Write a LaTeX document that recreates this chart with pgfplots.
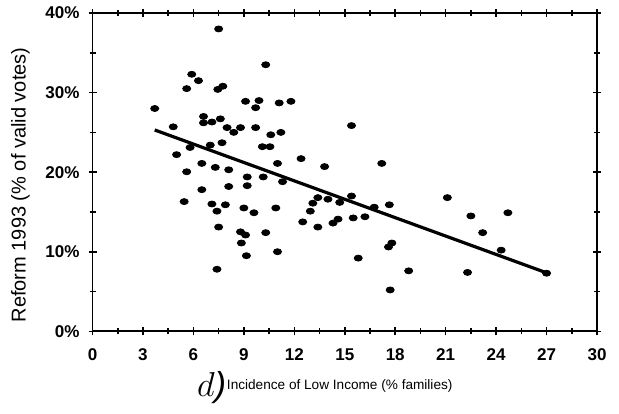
\documentclass[border=0pt]{standalone}
\usepackage{pgfplots}
\pgfplotsset{compat=1.18}
\usepackage{fontspec}
\setmainfont{Liberation Sans}
\begin{document}
\begin{tikzpicture}
\begin{axis}[
  scale only axis,
  width=252pt, height=159pt,
  xmin=0, xmax=30, ymin=0, ymax=40,
  xtick={0,3,...,30},
  ytick={0,10,20,30,40},
  yticklabels={0\%,10\%,20\%,30\%,40\%},
  minor x tick num=1,
  minor y tick num=1,
  tick align=center,
  major tick length=4pt,
  minor tick length=3pt,
  tick style={black, line width=0.8pt},
  axis line style={black, line width=0.9pt},
  /pgf/number format/assume math mode=true,
  ticklabel style={font=\fontsize{8.5}{9}\selectfont\bfseries},
  xticklabel style={yshift=-3pt},
  yticklabel style={xshift=-1pt},
  ylabel={Reform 1993 (\% of valid votes)},
  ylabel style={at={(axis description cs:-0.143,0.46)}, anchor=center, font=\fontsize{10}{12}\selectfont},
  xlabel={Incidence of Low Income (\% families)},
  xlabel style={at={(axis description cs:0.49,-0.173)}, anchor=center, font=\fontsize{6.8}{8}\selectfont},
  clip=false,
]
\addplot[only marks, mark=*, mark size=1.5pt, mark options={xscale=1.35, fill=black, draw=black}] coordinates {
(7.5,38.0) (10.3,33.5) (5.9,32.3) (6.3,31.5) (5.6,30.5) (7.45,30.4) (7.75,30.8)
(3.7,28.0) (9.1,28.9) (9.9,29.0) (9.7,28.1) (11.1,28.7) (11.8,28.9)
(6.6,27.0) (6.6,26.2) (7.1,26.3) (7.6,26.7) (4.8,25.7) (8.0,25.6) (8.4,25.0)
(8.8,25.6) (9.7,25.6) (10.6,24.7) (11.2,25.0) (15.4,25.85)
(7.7,23.7) (10.1,23.2) (10.55,23.2) (5.8,23.1) (7.0,23.4) (5.0,22.2)
(6.5,21.1) (7.3,20.6) (8.1,20.3) (5.6,20.05) (9.2,19.4) (10.15,19.4) (11.0,21.1)
(9.2,18.3) (8.1,18.2) (6.5,17.8) (5.45,16.3) (7.1,16.0) (7.9,15.9) (7.4,15.1)
(9.0,15.5) (9.6,14.9) (10.9,15.5) (7.5,13.1) (8.8,12.5) (9.1,12.1) (10.3,12.4)
(8.85,11.1) (9.15,9.5) (11.0,10.0) (7.4,7.8)
(12.4,21.7) (13.8,20.7) (17.2,21.1) (11.3,18.8) (13.4,16.8) (14.0,16.6) (14.7,16.2)
(15.4,17.0) (13.1,16.1) (12.95,15.1) (16.75,15.6) (17.65,15.9) (21.1,16.8)
(15.5,14.25) (16.2,14.4) (14.3,13.6) (14.6,14.1) (12.5,13.75) (13.4,13.1)
(22.5,14.5) (24.7,14.9) (23.2,12.4) (17.8,11.1) (17.6,10.6) (24.3,10.2)
(15.8,9.2) (18.8,7.6) (22.3,7.4) (27.0,7.3) (17.7,5.2)
};
\addplot[black, line width=1.6pt] coordinates {(3.7,25.3) (27,7.35)};
\node[anchor=center, font=\LARGE\itshape\rmfamily] at (axis description cs:0.236,-0.178) {$d$)};
\path (axis description cs:-0.1834,-0.2579) rectangle (axis description cs:1.0436,1.0409);
\end{axis}
\end{tikzpicture}
\end{document}
